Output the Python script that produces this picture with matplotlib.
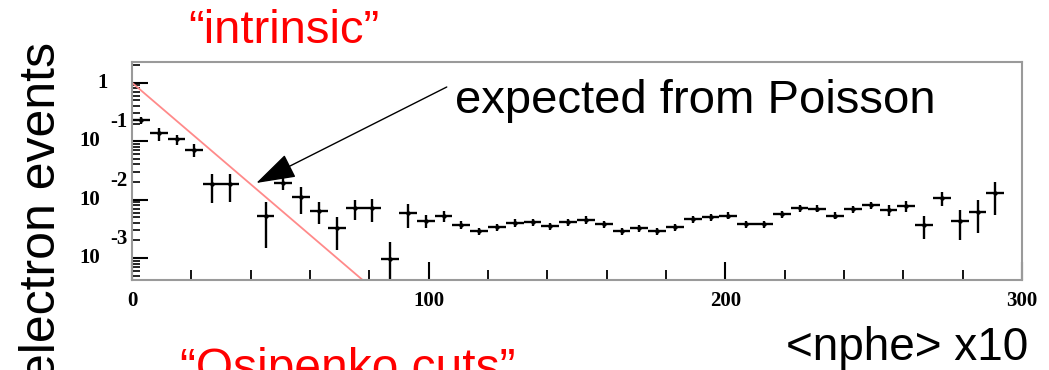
import matplotlib.pyplot as plt
import numpy as np
from matplotlib.ticker import FixedLocator, MultipleLocator, LogLocator, NullFormatter
from matplotlib.transforms import offset_copy

# histogram of single-electron events vs <nphe> x10 (bin width 6, empty bins left out)
nphe_bins = [3, 9, 15, 21, 27, 33, 45, 51, 57, 63, 69, 75, 81, 87, 93, 99,
             105, 111, 117, 123, 129, 135, 141, 147, 153, 159, 165, 171, 177,
             183, 189, 195, 201, 207, 213, 219, 225, 231, 237, 243, 249, 255,
             261, 267, 273, 279, 285, 291]
counts = [0.23, 0.136, 0.107, 0.0705, 0.0182, 0.0182, 0.0052, 0.0195, 0.0109,
          0.00645, 0.0032, 0.0071, 0.0071, 0.00095, 0.0059, 0.0043, 0.0052,
          0.0037, 0.0029, 0.0034, 0.0040, 0.0041, 0.0035, 0.0041, 0.0045,
          0.0038, 0.0029, 0.0032, 0.0029, 0.0034, 0.0046, 0.0050, 0.0053,
          0.0038, 0.0038, 0.0056, 0.0072, 0.0070, 0.0053, 0.0069, 0.0080,
          0.0066, 0.0078, 0.0037, 0.0107, 0.0043, 0.0062, 0.0128]
rel_err = [0.13, 0.25, 0.2, 0.25, 0.52, 0.5, 0.72, 0.25, 0.48, 0.4, 0.58, 0.38,
           0.42, 0.98, 0.44, 0.25, 0.22, 0.14, 0.14, 0.14, 0.14, 0.14, 0.14,
           0.14, 0.14, 0.14, 0.14, 0.14, 0.14, 0.14, 0.14, 0.14, 0.14, 0.14,
           0.14, 0.14, 0.14, 0.14, 0.14, 0.14, 0.14, 0.2, 0.22, 0.43, 0.28,
           0.52, 0.56, 0.58]
bin_half_width = 3

# zero-photoelectron probability exp(-<nphe>): straight on a log axis
poisson_x = [0, 80]
poisson_y = [1.0, 3.35e-4]

x_ticks = [0, 100, 200, 300]
y_ticks = [1, 1e-1, 1e-2, 1e-3]
y_tick_base = ["1", "10", "10", "10"]
y_tick_exp = ["", "-1", "-2", "-3"]

W, H = 1049, 370
fig = plt.figure(figsize=(W / 100, H / 100), dpi=100)
ax = fig.add_axes([132 / W, 1 - 280 / H, (1022 - 132) / W, (280 - 62) / H])

ax.set_yscale('log')
ax.set_xlim(0, 300)
ax.set_ylim(4.2e-4, 2.26)

counts = np.array(counts)
yerr = counts * np.array(rel_err)
ax.errorbar(nphe_bins, counts, xerr=bin_half_width, yerr=yerr, fmt='o', ms=3.2,
            mew=0, color='black', ecolor='black', elinewidth=1.7, capsize=0)
ax.plot(poisson_x, poisson_y, color='#ff8a8a', lw=1.3)

tick_font = dict(fontfamily='Liberation Serif', fontweight='bold', fontsize=15)

ax.set_xticks(x_ticks, labels=[str(t) for t in x_ticks], **tick_font)
ax.xaxis.set_minor_locator(MultipleLocator(20))
ax.tick_params(axis='x', which='major', direction='in', length=13, width=1.5,
               pad=8, top=False)
ax.tick_params(axis='x', which='minor', direction='in', length=7, width=1.3,
               top=False)

ax.yaxis.set_major_locator(FixedLocator(y_ticks))
ax.yaxis.set_minor_locator(LogLocator(base=10, subs=np.arange(2, 10)))
ax.yaxis.set_major_formatter(NullFormatter())
ax.yaxis.set_minor_formatter(NullFormatter())
ax.tick_params(axis='y', which='major', direction='in', length=11.5, width=1.5,
               right=False)
ax.tick_params(axis='y', which='minor', direction='in', length=6, width=1.2,
               right=False)

for sp in ax.spines.values():
    sp.set_color('#9a9a9a')
    sp.set_linewidth(1.5)

# ROOT-style decade labels: "10" at the tick, exponent raised to the right
ytr = ax.get_yaxis_transform()
one_tr = offset_copy(ytr, fig=fig, x=-24, y=0, units='dots')
base_tr = offset_copy(ytr, fig=fig, x=-32, y=0, units='dots')
exp_tr = offset_copy(ytr, fig=fig, x=-22, y=19, units='dots')
for val, base, exp in zip(y_ticks, y_tick_base, y_tick_exp):
    if exp:
        ax.text(0, val, base, transform=base_tr, ha='right', va='center', **tick_font)
        ax.text(0, val, exp, transform=exp_tr, ha='left', va='center', **tick_font)
    else:
        ax.text(0, val, base, transform=one_tr, ha='right', va='center', **tick_font)

ax.annotate('', xy=(41.9, 0.0192), xytext=(106.1, 0.844),
            arrowprops=dict(arrowstyle='-|>,head_length=1.25,head_width=0.4',
                            mutation_scale=20, lw=1, color='black',
                            shrinkA=0, shrinkB=0))

sans = 'Liberation Sans'
fig.text(188 / W, 1 - 43 / H, '\u201cintrinsic\u201d', color='red',
         ha='left', va='baseline', fontfamily=sans, fontsize=34)
fig.text(455 / W, 1 - 113 / H, 'expected from Poisson', color='black',
         ha='left', va='baseline', fontfamily=sans, fontsize=34)
fig.text(1028 / W, 1 - 360 / H, '<nphe> x10', color='black',
         ha='right', va='baseline', fontfamily=sans, fontsize=33)
fig.text(180 / W, 1 - 382 / H, '\u201cOsipenko cuts\u201d', color='red',
         ha='left', va='baseline', fontfamily=sans, fontsize=34.5)
fig.text(55 / W, 1 - 42 / H, 'electron events', rotation=90,
         rotation_mode='anchor', ha='right', va='baseline',
         fontfamily=sans, fontsize=36)

fig.savefig('out.png', dpi=100)
